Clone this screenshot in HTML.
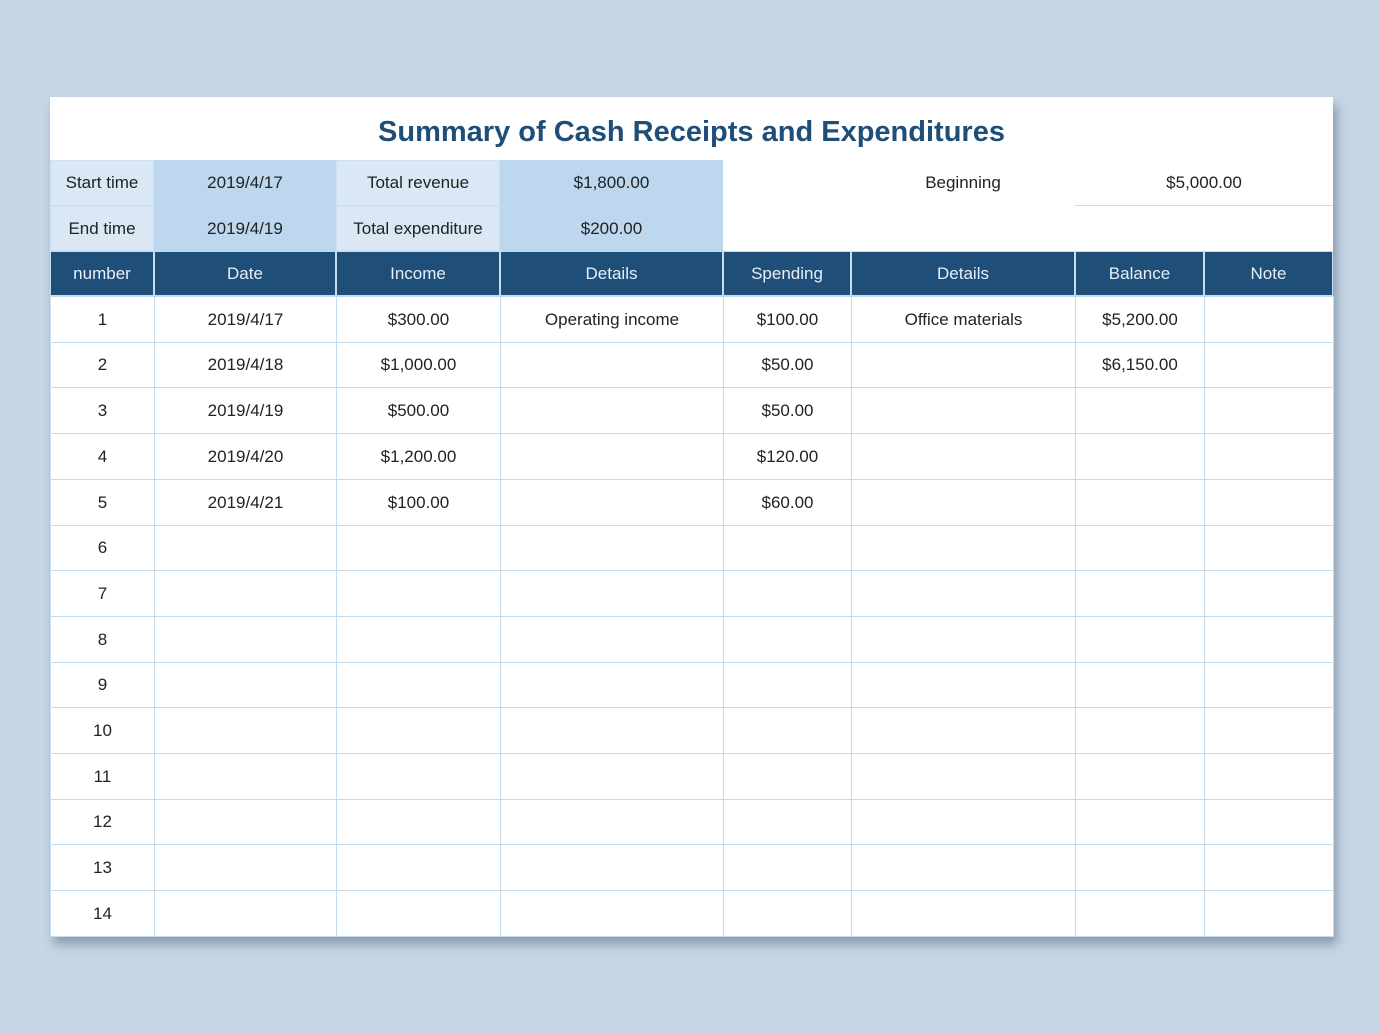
<!DOCTYPE html>
<html><head><meta charset="utf-8"><style>
body{margin:0;width:1379px;height:1034px;background:#c6d6e5;overflow:hidden;font-family:"Liberation Sans",sans-serif;}
#sheet{position:absolute;left:50px;top:97px;width:1283px;height:839px;background:#fff;box-shadow:4px 8px 10px rgba(60,80,100,.45);}
.c{position:absolute;box-sizing:border-box;display:flex;align-items:center;justify-content:center;font-size:17px;color:#222;}
#title{position:absolute;left:0;top:19px;width:1283px;text-align:center;font-size:29px;font-weight:bold;color:#1f4e79;}
</style></head><body>
<div id="sheet">
<div id="title">Summary of Cash Receipts and Expenditures</div>
</div>
<script>
const colX=[0,104,286,450,673,801,1025,1154,1283];
const headers=["number","Date","Income","Details","Spending","Details","Balance","Note"];
const dates=["2019/4/17","2019/4/18","2019/4/19","2019/4/20","2019/4/21"];
const income=["$300.00","$1,000.00","$500.00","$1,200.00","$100.00"];
const spending=["$100.00","$50.00","$50.00","$120.00","$60.00"];
const balance=["$5,200.00","$6,150.00"];
const s=document.getElementById('sheet');
function cell(x0,x1,y,h,txt,bg,col,border,name){
 const d=document.createElement('div');d.className='c';
 d.style.left=x0+'px';d.style.width=(x1-x0)+'px';d.style.top=y+'px';d.style.height=h+'px';
 if(bg)d.style.background=bg;if(col)d.style.color=col;
 if(border)d.style.border=border;
 d.textContent=txt;
 
 
 s.appendChild(d);
}
const lb='#dae7f4',mb='#bdd7ee',g='1px solid #c5dcee';
cell(0,104,63,46,"Start time",lb,null,'1px solid #cfe0f0','start-time-label');
cell(0,104,109,45,"End time",lb,null,'1px solid #cfe0f0','end-time-label');
cell(104,286,63,91,"",mb,null,null,'date-range-bg');
cell(104,286,63,46,"2019/4/17",null,null,null,'start-time-value');
cell(104,286,109,45,"2019/4/19",null,null,null,'end-time-value');
cell(286,450,63,46,"Total revenue",lb,null,'1px solid #cfe0f0','total-revenue-label');
cell(286,450,109,45,"Total expenditure",lb,null,'1px solid #cfe0f0','total-expenditure-label');
cell(450,673,63,91,"",mb,null,null,'totals-bg');
cell(450,673,63,46,"$1,800.00",null,null,null,'total-revenue-value');
cell(450,673,109,45,"$200.00",null,null,null,'total-expenditure-value');
cell(801,1025,63,46,"Beginning",null,null,null,'beginning-label');
cell(1025,1283,63,46,"$5,000.00",null,null,null,'beginning-value');
const ln=document.createElement('div');ln.style.cssText='position:absolute;left:1025px;top:108px;width:258px;height:1px;background:#c5dcee';


s.appendChild(ln);
for(let i=0;i<8;i++){cell(colX[i],colX[i+1],154,45,headers[i],'#1f4e79','#e8eef5','1px solid #c5dcee','header-'+headers[i].toLowerCase());}
for(let r=0;r<14;r++){
 const y=Math.round(199+r*45.7);
 const y2=Math.round(199+(r+1)*45.7);
 for(let c=0;c<8;c++){
  let t="";
  if(c==0)t=String(r+1);
  if(c==1&&dates[r])t=dates[r];
  if(c==2&&income[r])t=income[r];
  if(c==3&&r==0)t="Operating income";
  if(c==4&&spending[r])t=spending[r];
  if(c==5&&r==0)t="Office materials";
  if(c==6&&balance[r])t=balance[r];
  cell(colX[c],colX[c+1]+1,y,y2-y+1,t,null,null,g,'cell-r'+(r+1)+'-c'+(c+1));
 }
}
</script>
</body></html>
